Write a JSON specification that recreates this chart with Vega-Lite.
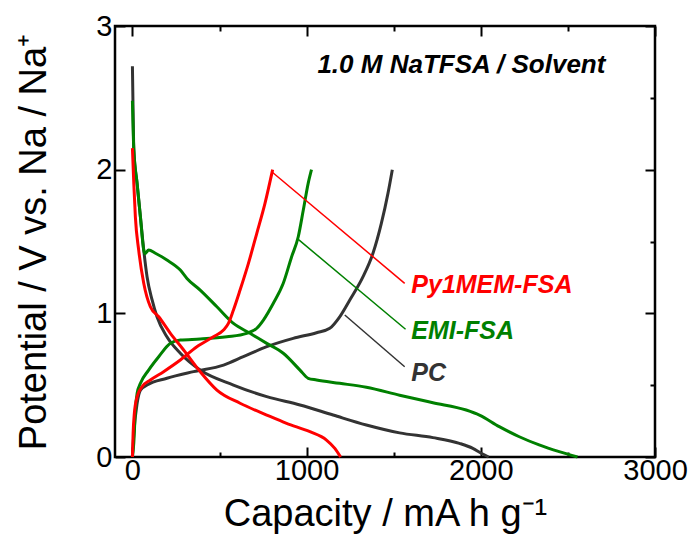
{
  "$schema": "https://vega.github.io/schema/vega-lite/v6.json",
  "width": 540,
  "height": 431,
  "autosize": "none",
  "padding": {"left": 115, "top": 26, "right": 35, "bottom": 80},
  "background": "white",
  "config": {
    "view": {"stroke": "black", "strokeWidth": 2.5},
    "font": "Liberation Sans",
    "axis": {"labelFont": "Liberation Sans", "titleFont": "Liberation Sans", "labelColor": "black", "titleColor": "black", "tickColor": "black", "grid": false, "domain": false}
  },
  "datasets": {
    "curves": [
      {"series": "PC", "curve": "PC-dis", "cap": 0, "v": 2.72},
      {"series": "PC", "curve": "PC-dis", "cap": 4, "v": 2.4},
      {"series": "PC", "curve": "PC-dis", "cap": 8, "v": 2.14},
      {"series": "PC", "curve": "PC-dis", "cap": 27, "v": 1.9},
      {"series": "PC", "curve": "PC-dis", "cap": 46, "v": 1.67},
      {"series": "PC", "curve": "PC-dis", "cap": 65, "v": 1.44},
      {"series": "PC", "curve": "PC-dis", "cap": 84, "v": 1.255},
      {"series": "PC", "curve": "PC-dis", "cap": 113, "v": 1.093},
      {"series": "PC", "curve": "PC-dis", "cap": 141, "v": 0.976},
      {"series": "PC", "curve": "PC-dis", "cap": 198, "v": 0.837},
      {"series": "PC", "curve": "PC-dis", "cap": 275, "v": 0.722},
      {"series": "PC", "curve": "PC-dis", "cap": 389, "v": 0.605},
      {"series": "PC", "curve": "PC-dis", "cap": 580, "v": 0.501},
      {"series": "PC", "curve": "PC-dis", "cap": 771, "v": 0.42},
      {"series": "PC", "curve": "PC-dis", "cap": 962, "v": 0.362},
      {"series": "PC", "curve": "PC-dis", "cap": 1152, "v": 0.292},
      {"series": "PC", "curve": "PC-dis", "cap": 1343, "v": 0.223},
      {"series": "PC", "curve": "PC-dis", "cap": 1534, "v": 0.168},
      {"series": "PC", "curve": "PC-dis", "cap": 1725, "v": 0.135},
      {"series": "PC", "curve": "PC-dis", "cap": 1877, "v": 0.095},
      {"series": "PC", "curve": "PC-dis", "cap": 1954, "v": 0.06},
      {"series": "PC", "curve": "PC-dis", "cap": 2002, "v": 0.026},
      {"series": "PC", "curve": "PC-dis", "cap": 2045, "v": 0},
      {"series": "PC", "curve": "PC-cha", "cap": 0, "v": 0},
      {"series": "PC", "curve": "PC-cha", "cap": 8, "v": 0.165},
      {"series": "PC", "curve": "PC-cha", "cap": 27, "v": 0.374},
      {"series": "PC", "curve": "PC-cha", "cap": 46, "v": 0.466},
      {"series": "PC", "curve": "PC-cha", "cap": 84, "v": 0.501},
      {"series": "PC", "curve": "PC-cha", "cap": 198, "v": 0.548},
      {"series": "PC", "curve": "PC-cha", "cap": 351, "v": 0.594},
      {"series": "PC", "curve": "PC-cha", "cap": 523, "v": 0.64},
      {"series": "PC", "curve": "PC-cha", "cap": 637, "v": 0.698},
      {"series": "PC", "curve": "PC-cha", "cap": 771, "v": 0.768},
      {"series": "PC", "curve": "PC-cha", "cap": 923, "v": 0.826},
      {"series": "PC", "curve": "PC-cha", "cap": 1057, "v": 0.865},
      {"series": "PC", "curve": "PC-cha", "cap": 1133, "v": 0.896},
      {"series": "PC", "curve": "PC-cha", "cap": 1190, "v": 0.976},
      {"series": "PC", "curve": "PC-cha", "cap": 1248, "v": 1.093},
      {"series": "PC", "curve": "PC-cha", "cap": 1324, "v": 1.255},
      {"series": "PC", "curve": "PC-cha", "cap": 1381, "v": 1.418},
      {"series": "PC", "curve": "PC-cha", "cap": 1429, "v": 1.626},
      {"series": "PC", "curve": "PC-cha", "cap": 1467, "v": 1.835},
      {"series": "PC", "curve": "PC-cha", "cap": 1492, "v": 2.0},
      {"series": "EMI-FSA", "curve": "EMI-dis", "cap": 0, "v": 2.48},
      {"series": "EMI-FSA", "curve": "EMI-dis", "cap": 8, "v": 2.14},
      {"series": "EMI-FSA", "curve": "EMI-dis", "cap": 27, "v": 1.905},
      {"series": "EMI-FSA", "curve": "EMI-dis", "cap": 46, "v": 1.672},
      {"series": "EMI-FSA", "curve": "EMI-dis", "cap": 65, "v": 1.44},
      {"series": "EMI-FSA", "curve": "EMI-dis", "cap": 72, "v": 1.415},
      {"series": "EMI-FSA", "curve": "EMI-dis", "cap": 93, "v": 1.44},
      {"series": "EMI-FSA", "curve": "EMI-dis", "cap": 132, "v": 1.418},
      {"series": "EMI-FSA", "curve": "EMI-dis", "cap": 198, "v": 1.371},
      {"series": "EMI-FSA", "curve": "EMI-dis", "cap": 275, "v": 1.301},
      {"series": "EMI-FSA", "curve": "EMI-dis", "cap": 313, "v": 1.243},
      {"series": "EMI-FSA", "curve": "EMI-dis", "cap": 389, "v": 1.162},
      {"series": "EMI-FSA", "curve": "EMI-dis", "cap": 485, "v": 1.046},
      {"series": "EMI-FSA", "curve": "EMI-dis", "cap": 580, "v": 0.93},
      {"series": "EMI-FSA", "curve": "EMI-dis", "cap": 675, "v": 0.861},
      {"series": "EMI-FSA", "curve": "EMI-dis", "cap": 771, "v": 0.791},
      {"series": "EMI-FSA", "curve": "EMI-dis", "cap": 866, "v": 0.722},
      {"series": "EMI-FSA", "curve": "EMI-dis", "cap": 962, "v": 0.605},
      {"series": "EMI-FSA", "curve": "EMI-dis", "cap": 1009, "v": 0.548},
      {"series": "EMI-FSA", "curve": "EMI-dis", "cap": 1057, "v": 0.536},
      {"series": "EMI-FSA", "curve": "EMI-dis", "cap": 1190, "v": 0.513},
      {"series": "EMI-FSA", "curve": "EMI-dis", "cap": 1343, "v": 0.485},
      {"series": "EMI-FSA", "curve": "EMI-dis", "cap": 1534, "v": 0.43},
      {"series": "EMI-FSA", "curve": "EMI-dis", "cap": 1725, "v": 0.378},
      {"series": "EMI-FSA", "curve": "EMI-dis", "cap": 1916, "v": 0.327},
      {"series": "EMI-FSA", "curve": "EMI-dis", "cap": 1992, "v": 0.292},
      {"series": "EMI-FSA", "curve": "EMI-dis", "cap": 2106, "v": 0.211},
      {"series": "EMI-FSA", "curve": "EMI-dis", "cap": 2221, "v": 0.141},
      {"series": "EMI-FSA", "curve": "EMI-dis", "cap": 2335, "v": 0.084},
      {"series": "EMI-FSA", "curve": "EMI-dis", "cap": 2450, "v": 0.037},
      {"series": "EMI-FSA", "curve": "EMI-dis", "cap": 2555, "v": 0},
      {"series": "EMI-FSA", "curve": "EMI-cha", "cap": 0, "v": 0},
      {"series": "EMI-FSA", "curve": "EMI-cha", "cap": 8, "v": 0.1},
      {"series": "EMI-FSA", "curve": "EMI-cha", "cap": 17, "v": 0.327},
      {"series": "EMI-FSA", "curve": "EMI-cha", "cap": 27, "v": 0.443},
      {"series": "EMI-FSA", "curve": "EMI-cha", "cap": 46, "v": 0.513},
      {"series": "EMI-FSA", "curve": "EMI-cha", "cap": 93, "v": 0.605},
      {"series": "EMI-FSA", "curve": "EMI-cha", "cap": 151, "v": 0.698},
      {"series": "EMI-FSA", "curve": "EMI-cha", "cap": 218, "v": 0.791},
      {"series": "EMI-FSA", "curve": "EMI-cha", "cap": 275, "v": 0.814},
      {"series": "EMI-FSA", "curve": "EMI-cha", "cap": 389, "v": 0.821},
      {"series": "EMI-FSA", "curve": "EMI-cha", "cap": 542, "v": 0.837},
      {"series": "EMI-FSA", "curve": "EMI-cha", "cap": 656, "v": 0.861},
      {"series": "EMI-FSA", "curve": "EMI-cha", "cap": 714, "v": 0.896},
      {"series": "EMI-FSA", "curve": "EMI-cha", "cap": 752, "v": 0.953},
      {"series": "EMI-FSA", "curve": "EMI-cha", "cap": 809, "v": 1.07},
      {"series": "EMI-FSA", "curve": "EMI-cha", "cap": 866, "v": 1.209},
      {"series": "EMI-FSA", "curve": "EMI-cha", "cap": 914, "v": 1.394},
      {"series": "EMI-FSA", "curve": "EMI-cha", "cap": 952, "v": 1.533},
      {"series": "EMI-FSA", "curve": "EMI-cha", "cap": 981, "v": 1.719},
      {"series": "EMI-FSA", "curve": "EMI-cha", "cap": 1009, "v": 1.905},
      {"series": "EMI-FSA", "curve": "EMI-cha", "cap": 1028, "v": 2.0},
      {"series": "Py1MEM-FSA", "curve": "Py-dis", "cap": 0, "v": 2.15},
      {"series": "Py1MEM-FSA", "curve": "Py-dis", "cap": 8, "v": 1.9},
      {"series": "Py1MEM-FSA", "curve": "Py-dis", "cap": 17, "v": 1.67},
      {"series": "Py1MEM-FSA", "curve": "Py-dis", "cap": 36, "v": 1.44},
      {"series": "Py1MEM-FSA", "curve": "Py-dis", "cap": 65, "v": 1.21},
      {"series": "Py1MEM-FSA", "curve": "Py-dis", "cap": 103, "v": 1.046},
      {"series": "Py1MEM-FSA", "curve": "Py-dis", "cap": 151, "v": 0.976},
      {"series": "Py1MEM-FSA", "curve": "Py-dis", "cap": 218, "v": 0.861},
      {"series": "Py1MEM-FSA", "curve": "Py-dis", "cap": 294, "v": 0.745},
      {"series": "Py1MEM-FSA", "curve": "Py-dis", "cap": 389, "v": 0.594},
      {"series": "Py1MEM-FSA", "curve": "Py-dis", "cap": 485, "v": 0.466},
      {"series": "Py1MEM-FSA", "curve": "Py-dis", "cap": 618, "v": 0.374},
      {"series": "Py1MEM-FSA", "curve": "Py-dis", "cap": 771, "v": 0.292},
      {"series": "Py1MEM-FSA", "curve": "Py-dis", "cap": 885, "v": 0.234},
      {"series": "Py1MEM-FSA", "curve": "Py-dis", "cap": 1019, "v": 0.176},
      {"series": "Py1MEM-FSA", "curve": "Py-dis", "cap": 1114, "v": 0.118},
      {"series": "Py1MEM-FSA", "curve": "Py-dis", "cap": 1162, "v": 0.06},
      {"series": "Py1MEM-FSA", "curve": "Py-dis", "cap": 1195, "v": 0},
      {"series": "Py1MEM-FSA", "curve": "Py-cha", "cap": 0, "v": 0},
      {"series": "Py1MEM-FSA", "curve": "Py-cha", "cap": 4, "v": 0.165},
      {"series": "Py1MEM-FSA", "curve": "Py-cha", "cap": 11, "v": 0.304},
      {"series": "Py1MEM-FSA", "curve": "Py-cha", "cap": 27, "v": 0.42},
      {"series": "Py1MEM-FSA", "curve": "Py-cha", "cap": 55, "v": 0.489},
      {"series": "Py1MEM-FSA", "curve": "Py-cha", "cap": 103, "v": 0.536},
      {"series": "Py1MEM-FSA", "curve": "Py-cha", "cap": 179, "v": 0.594},
      {"series": "Py1MEM-FSA", "curve": "Py-cha", "cap": 275, "v": 0.675},
      {"series": "Py1MEM-FSA", "curve": "Py-cha", "cap": 370, "v": 0.768},
      {"series": "Py1MEM-FSA", "curve": "Py-cha", "cap": 465, "v": 0.837},
      {"series": "Py1MEM-FSA", "curve": "Py-cha", "cap": 523, "v": 0.884},
      {"series": "Py1MEM-FSA", "curve": "Py-cha", "cap": 551, "v": 0.93},
      {"series": "Py1MEM-FSA", "curve": "Py-cha", "cap": 580, "v": 1.023},
      {"series": "Py1MEM-FSA", "curve": "Py-cha", "cap": 618, "v": 1.162},
      {"series": "Py1MEM-FSA", "curve": "Py-cha", "cap": 666, "v": 1.348},
      {"series": "Py1MEM-FSA", "curve": "Py-cha", "cap": 714, "v": 1.557},
      {"series": "Py1MEM-FSA", "curve": "Py-cha", "cap": 761, "v": 1.765},
      {"series": "Py1MEM-FSA", "curve": "Py-cha", "cap": 805, "v": 2.0}
    ],
    "leaders": [
      {"series": "PC", "cap": 1219, "v": 0.988},
      {"series": "PC", "cap": 1563, "v": 0.628},
      {"series": "EMI-FSA", "cap": 952, "v": 1.515},
      {"series": "EMI-FSA", "cap": 1568, "v": 0.889},
      {"series": "Py1MEM-FSA", "cap": 805, "v": 1.98},
      {"series": "Py1MEM-FSA", "cap": 1563, "v": 1.209}
    ],
    "labels": [
      {"series": "Py1MEM-FSA", "cap": 1601, "v": 1.139},
      {"series": "EMI-FSA", "cap": 1601, "v": 0.819},
      {"series": "PC", "cap": 1601, "v": 0.529}
    ],
    "note": [
      {"text": "1.0 M NaTFSA / Solvent", "cap": 1062, "v": 2.67}
    ]
  },
  "layer": [
    {
      "data": {"name": "curves"},
      "mark": {"type": "line", "strokeWidth": 3, "interpolate": "monotone"},
      "encoding": {
        "x": {
          "field": "cap", "type": "quantitative",
          "scale": {"domain": [-100, 3000], "nice": false, "zero": false},
          "axis": {
            "orient": "bottom",
            "values": [0, 500, 1000, 1500, 2000, 2500, 3000],
            "format": "d",
            "labelExpr": "datum.value % 1000 === 0 ? datum.label : ''",
            "tickSize": {"condition": {"test": "datum.value % 1000 === 0", "value": -10}, "value": -5},
            "tickWidth": 2,
            "labelFontSize": 29,
            "labelPadding": 9,
            "labelFlush": false,
            "labelOverlap": false,
            "labelBound": false,
            "title": "Capacity / mA h g⁻¹",
            "titleFontSize": 38,
            "titleFontWeight": "normal",
            "titlePadding": 5
          }
        },
        "y": {
          "field": "v", "type": "quantitative",
          "scale": {"domain": [0, 3], "nice": false, "zero": false},
          "axis": {
            "orient": "left",
            "values": [0, 0.5, 1, 1.5, 2, 2.5, 3],
            "format": "d",
            "labelExpr": "datum.value % 1 === 0 ? datum.label : ''",
            "tickSize": {"condition": {"test": "datum.value % 1 === 0", "value": -10}, "value": -5},
            "tickWidth": 2,
            "labelFontSize": 29,
            "labelPadding": 13,
            "labelFlush": false,
            "labelOverlap": false,
            "labelBound": false,
            "title": "Potential / V vs. Na / Na⁺",
            "titleFontSize": 38,
            "titleFontWeight": "normal",
            "titlePadding": 42
          }
        },
        "color": {
          "field": "series", "type": "nominal",
          "scale": {"domain": ["PC", "EMI-FSA", "Py1MEM-FSA"], "range": ["#333333", "#008000", "#ff0000"]},
          "legend": null
        },
        "detail": {"field": "curve", "type": "nominal"}
      }
    },
    {
      "data": {"name": "leaders"},
      "mark": {"type": "line", "strokeWidth": 1.5},
      "encoding": {
        "x": {
          "field": "cap", "type": "quantitative",
          "axis": {
            "orient": "top",
            "values": [0, 500, 1000, 1500, 2000, 2500, 3000],
            "labels": false,
            "title": null,
            "tickSize": {"condition": {"test": "datum.value % 1000 === 0", "value": -10}, "value": -5},
            "tickWidth": 2
          }
        },
        "y": {
          "field": "v", "type": "quantitative",
          "axis": {
            "orient": "right",
            "values": [0, 0.5, 1, 1.5, 2, 2.5, 3],
            "labels": false,
            "title": null,
            "tickSize": {"condition": {"test": "datum.value % 1 === 0", "value": -10}, "value": -5},
            "tickWidth": 2
          }
        },
        "color": {"field": "series", "type": "nominal", "legend": null},
        "detail": {"field": "series", "type": "nominal"}
      }
    },
    {
      "data": {"name": "labels"},
      "mark": {"type": "text", "align": "left", "baseline": "alphabetic", "fontSize": 25, "fontStyle": "italic", "fontWeight": "bold", "font": "Liberation Sans"},
      "encoding": {
        "x": {"field": "cap", "type": "quantitative", "axis": null},
        "y": {"field": "v", "type": "quantitative", "axis": null},
        "text": {"field": "series", "type": "nominal"},
        "color": {"field": "series", "type": "nominal", "legend": null}
      }
    },
    {
      "data": {"name": "note"},
      "mark": {"type": "text", "align": "left", "baseline": "alphabetic", "fontSize": 26, "fontStyle": "italic", "fontWeight": "bold", "font": "Liberation Sans", "color": "black"},
      "encoding": {
        "x": {"field": "cap", "type": "quantitative", "axis": null},
        "y": {"field": "v", "type": "quantitative", "axis": null},
        "text": {"field": "text", "type": "nominal"}
      }
    }
  ],
  "resolve": {"axis": {"x": "independent", "y": "independent"}}
}
